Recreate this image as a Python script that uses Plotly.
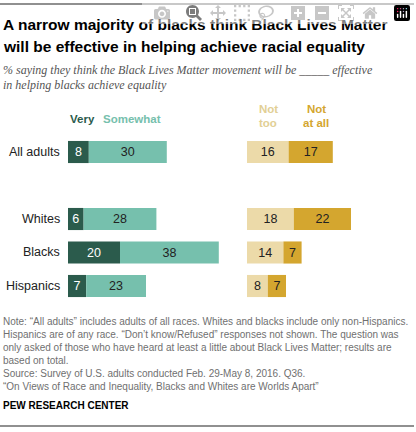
import plotly.graph_objects as go

groups = ["All adults", "Whites", "Blacks", "Hispanics"]
row_pos = [0, 2, 3, 4]
very = [8, 6, 20, 7]
somewhat = [30, 28, 38, 23]
not_too = [16, 18, 14, 8]
not_at_all = [17, 22, 7, 7]

W, H = 416, 432
PX = 2.6          # pixels per percentage point
LEFT0 = 68        # pixel where left bars start
RIGHT_BASE = (247 - 68) / PX   # offset (in points) for right block
ROW = 33.5        # pixels per row
TOP_ROW = 152     # pixel centre of first row

c_very, c_some, c_nt, c_na = "#2b5b4c", "#76c0ad", "#ecdaa9", "#d4a62f"

fig = go.Figure()


def add_bar(vals, base, color, txtcolor):
    fig.add_trace(go.Bar(
        y=row_pos, x=vals, base=base, orientation="h", marker_color=color,
        marker_line_width=0, width=0.66, text=[str(v) for v in vals],
        textposition="inside", insidetextanchor="middle",
        textfont=dict(family="Liberation Sans, Arial", size=12.5, color=txtcolor),
        hoverinfo="skip", showlegend=False))


add_bar(very, [0] * 4, c_very, "white")
add_bar(somewhat, very, c_some, "#222222")
add_bar(not_too, [RIGHT_BASE] * 4, c_nt, "#222222")
add_bar(not_at_all, [RIGHT_BASE + v for v in not_too], c_na, "#222222")

fig.update_xaxes(range=[-LEFT0 / PX, (W - LEFT0) / PX], visible=False)
fig.update_yaxes(range=[(H - TOP_ROW) / ROW, -TOP_ROW / ROW], visible=False)


def py(p):
    return 1 - p / H


def px(p):
    return p / W


def note(text, x, y, size, color="#222222", family="Liberation Sans, Arial",
         xanchor="left", bold=False):
    if bold:
        text = "<b>" + text + "</b>"
    fig.add_annotation(text=text, x=px(x), y=py(y), xref="paper", yref="paper",
                       xanchor=xanchor, yanchor="middle", showarrow=False,
                       font=dict(size=size, color=color, family=family))


# row labels
for g, r in zip(groups, row_pos):
    note(g, 62, TOP_ROW + ROW * r, 12.5, xanchor="right")

note("A narrow majority of blacks think Black Lives Matter", 1, 25, 15.5, "#000000", bold=True)
note("will be effective in helping achieve racial equality", 1, 47, 15.5, "#000000", bold=True)
serif = "Liberation Serif, Times New Roman, serif"
note("<i>% saying they think the Black Lives Matter movement will be _____ effective</i>", 1, 70, 12, "#555555", serif)
note("<i>in helping blacks achieve equality</i>", 1, 85, 12, "#555555", serif)

note("Very", 68, 119, 11.5, c_very, bold=True)
note("Somewhat", 101, 119, 11.5, c_some, bold=True)
note("Not", 268, 109, 11.5, "#e2cf95", xanchor="center", bold=True)
note("too", 268, 123, 11.5, "#e2cf95", xanchor="center", bold=True)
note("Not", 316, 109, 11.5, c_na, xanchor="center", bold=True)
note("at all", 316, 123, 11.5, c_na, xanchor="center", bold=True)

notes = [
    "Note: “All adults” includes adults of all races. Whites and blacks include only non-Hispanics.",
    "Hispanics are of any race. “Don’t know/Refused” responses not shown. The question was",
    "only asked of those who have heard at least a little about Black Lives Matter; results are",
    "based on total.",
    "Source: Survey of U.S. adults conducted Feb. 29-May 8, 2016. Q36.",
    "“On Views of Race and Inequality, Blacks and Whites are Worlds Apart”",
]
for i, t in enumerate(notes):
    note(t, 1, 321 + 13 * i, 10, "#707070")
note("PEW RESEARCH CENTER", 1, 405, 10, "#000000", bold=True)

for yline in (4, 426):
    fig.add_shape(type="line", xref="paper", yref="paper", x0=0, x1=px(414),
                  y0=py(yline), y1=py(yline), line=dict(color="#222222", width=1.2))

fig.update_layout(width=W, height=H, margin=dict(l=0, r=0, t=0, b=0),
                  barmode="overlay", plot_bgcolor="white", paper_bgcolor="white")

# remove the default page margin so the chart sits at the window's corner
fig.write_html("out.html", post_script="document.body.style.margin='0';")
